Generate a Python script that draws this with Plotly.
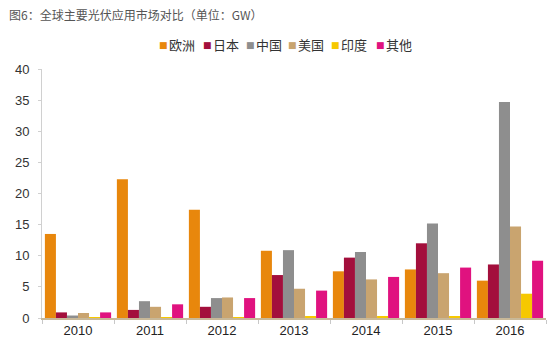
import plotly.graph_objects as go

years = ["2010", "2011", "2012", "2013", "2014", "2015", "2016"]
series_names = ["欧洲", "日本", "中国", "美国", "印度", "其他"]
europe = [13.5, 22.3, 17.4, 10.8, 7.5, 7.8, 6.0]
japan = [0.9, 1.3, 1.8, 6.9, 9.7, 12.0, 8.6]
china = [0.4, 2.7, 3.2, 10.9, 10.6, 15.2, 34.7]
usa = [0.8, 1.8, 3.3, 4.7, 6.2, 7.2, 14.7]
india = [0.1, 0.1, 0.1, 0.2, 0.2, 0.2, 3.9]
others = [0.9, 2.2, 3.2, 4.4, 6.6, 8.1, 9.2]
y_ticks = [0, 5, 10, 15, 20, 25, 30, 35, 40]

colors = ["#E8870C", "#A30F3C", "#8E8E8E", "#C9A46F", "#F6C800", "#E0127F"]
values = [europe, japan, china, usa, india, others]

fig = go.Figure()
for name, vals, col in zip(series_names, values, colors):
    fig.add_trace(go.Bar(x=years, y=vals, name=name, marker_color=col,
                         marker_line_width=0, showlegend=False))

cjk = "Noto Sans CJK SC, sans-serif"
W, H = 556, 351
ml, mr, mt, mb = 42, 10, 69, 33
pw, ph = W - ml - mr, H - mt - mb

def px_x(p):
    return (p - ml) / pw

def px_y(p):
    return (H - mb - p) / ph

annotations = [
    dict(text="图6：全球主要光伏应用市场对比（单位：GW）", xref="paper", yref="paper",
         x=px_x(7), y=px_y(15), xanchor="left", yanchor="middle", showarrow=False,
         font=dict(family=cjk, size=12, color="#555555")),
]
legend_x = [163, 207, 250, 292, 335, 380]
for name, col, lx in zip(series_names, colors, legend_x):
    annotations.append(dict(text="■", xref="paper", yref="paper", x=px_x(lx), y=px_y(45),
                            xanchor="center", yanchor="middle", showarrow=False,
                            font=dict(family="DejaVu Sans", size=9, color=col)))
    annotations.append(dict(text=name, xref="paper", yref="paper", x=px_x(lx + 4), y=px_y(45),
                            xanchor="left", yanchor="middle", showarrow=False,
                            font=dict(family=cjk, size=13, color="#333333")))

fig.update_layout(
    width=W, height=H,
    margin=dict(l=ml, r=mr, t=mt, b=mb),
    paper_bgcolor="white", plot_bgcolor="white",
    barmode="group", bargap=0.08, bargroupgap=0,
    font=dict(family="Liberation Sans, Arial", size=13, color="#333333"),
    showlegend=False,
    annotations=annotations,
)
fig.update_yaxes(range=[0, 40], tickvals=y_ticks, showgrid=False, zeroline=False,
                 showline=True, linecolor="#D0D0D0", linewidth=1,
                 ticks="outside", ticklen=3, tickcolor="#D0D0D0", ticklabelstandoff=6,
                 tickfont=dict(family="Liberation Sans, Arial", size=13, color="#333333"))
fig.update_xaxes(showgrid=False, showline=True, linecolor="#C8B898", linewidth=1.5,
                 ticks="outside", tickson="boundaries", ticklen=4, tickcolor="#C8C8C8",
                 tickfont=dict(family="Liberation Sans, Arial", size=13, color="#222222"))
fig.write_html("out.html")
